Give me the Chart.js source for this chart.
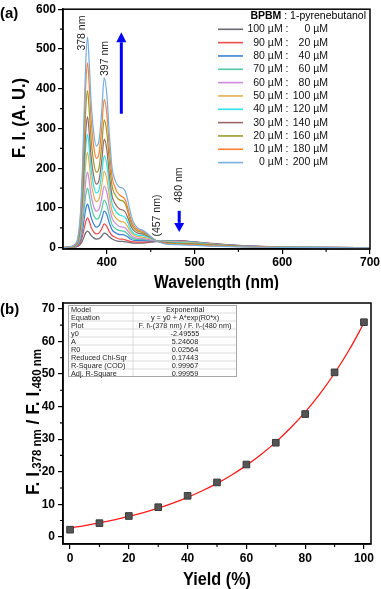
<!DOCTYPE html>
<html><head><meta charset="utf-8">
<script src="https://cdn.jsdelivr.net/npm/chart.js@4.4.1/dist/chart.umd.min.js"></script>
<style>
html,body{margin:0;padding:0;background:#fff;width:381px;height:589px;overflow:hidden}
canvas{position:absolute;left:0}
#ca{top:0}
#cb{top:290px}
</style></head><body>
<canvas id="ca" width="381" height="290"></canvas>
<canvas id="cb" width="381" height="299"></canvas>
<script>
// ---------- Panel (a) data ----------
const wavelengths = [350,355,360,364,367,370,372,374,376,378,380,382,385,388,391,394,397,400,403,406,409,412,415,418,421,424,427,430,435,440,445,450,457,465,472,480,490,500,515,530,550,575,600,650,700];
const fi_100_0   = [0.5,1,1.5,2,4,9,17,28,38,42,38,31,25,22,23,29,37,34,27,22,19,17,16,16,15,14,13,12,11.5,12,13,14,15.5,17,18,18.3,17,15,12,9,6,3.5,2,1,0.5];
const fi_90_20   = [0.5,1,2,3,5,14,28,47,66,75,66,52,40,35,37,47,60,54,40,31,27,24,22,22,20,18,16,15,14,14.5,15,15.5,16.5,17.5,18,17.9,16.5,14.5,11.5,8.5,5.5,3.5,2,1,0.5];
const fi_80_40   = [0.5,1,2,4,7,20,41,70,98,110,96,77,60,52,55,71,92,83,61,45,39,35,33,33,31,27,22,19,18,18,18,17.5,17,17,17.2,17,16,14,11,8,5.5,3,2,1,0.5];
const fi_70_60   = [0.5,1,2,4,9,27,55,95,133,150,131,105,82,72,76,96,120,108,80,58,50,45,43,42,40,34,27,23,21,21,20,19,17.5,16.5,16.5,16.3,15,13.5,10.5,7.5,5,3,2,1,0.5];
const fi_60_80   = [0.5,1,2,5,11,34,70,120,169,190,166,133,104,92,97,123,155,139,102,74,64,57,53,52,50,42,33,27,24,24,22,20,17.5,16,15.5,15,14,12.5,10,7,4.5,3,1.5,1,0.5];
const fi_50_100  = [0.5,1,2,5,13,42,88,152,214,240,210,168,131,116,122,154,192,173,127,92,79,71,67,65,62,52,40,33,28,27,25,22,17.5,15.5,14.8,14.4,13.5,12,9.5,7,4.5,2.5,1.5,1,0.5];
const fi_40_120  = [0.5,1,2.5,6,15,50,104,180,254,285,248,199,156,138,145,184,232,209,153,111,96,87,82,80,76,63,47,38,32,31,28,24,17.5,14.5,13.5,12.8,12,11,8.5,6.5,4,2.5,1.5,0.5,0.3];
const fi_30_140  = [0.5,1,2.5,6,17,57,120,208,294,330,287,230,181,160,169,216,273,246,180,130,113,103,97,95,90,75,56,45,37,35,31,26,17.5,13.5,12,11.4,10.5,9.5,8,6,4,2.5,1.2,0.5,0.3];
const fi_20_160  = [0.5,1.5,3,7,19,68,143,248,352,395,343,275,215,190,200,255,322,290,213,155,135,125,120,118,111,90,66,52,42,39,34,27,17,12.5,11,10.5,10,9,7.5,5.5,3.5,2,1.2,0.5,0.3];
const fi_10_180  = [1,1.5,3.5,8,22,80,168,292,414,465,405,325,255,225,236,298,373,336,245,178,154,139,132,128,121,99,74,58,46,42,36,28,17,11.5,9.8,9.2,8.5,7.5,6,4.5,3,2,1,0.5,0.2];
const fi_0_200   = [1,2,4,10,25,90,190,330,470,530,460,370,290,256,268,340,427,385,280,200,172,158,152,150,142,118,88,66,50,45,38,28,17,10.5,8.5,8,7,6,4.5,3.5,2.5,1.5,1,0.5,0];
const spectra = [fi_100_0,fi_90_20,fi_80_40,fi_70_60,fi_60_80,fi_50_100,fi_40_120,fi_30_140,fi_20_160,fi_10_180,fi_0_200];
const bpbmConc = ['100 µM','90 µM','80 µM','70 µM','60 µM','50 µM','40 µM','30 µM','20 µM','10 µM','0 µM'];
const pyrConc  = ['0 µM','20 µM','40 µM','60 µM','80 µM','100 µM','120 µM','140 µM','160 µM','180 µM','200 µM'];
const seriesColors = ['#6a6a72','#f24a4a','#3b7fd8','#55c9a5','#cc8ad8','#e2b04e','#2ee4e6','#9a6868','#9c9a2c','#ff8030','#78aee0'];
const xTicksA = [400,500,600,700];
const yTicksA = [0,100,200,300,400,500,600];

// ---------- Panel (b) data ----------
const yieldPct = [0,10,20,30,40,50,60,70,80,90,100];
const ratio378_480 = [2.2,4.2,6.4,9.1,12.6,16.7,22.2,28.9,37.7,50.5,65.9];
const fitX = [0,5,10,15,20,25,30,35,40,45,50,55,60,65,70,75,80,85,90,95,100];
const fitY = [2.75,3.47,4.28,5.21,6.27,7.46,8.83,10.37,12.13,14.14,16.41,19.0,21.94,25.28,29.08,33.4,38.3,43.89,50.23,57.44,65.64];
const tableRows = [
  ['Model','Exponential'],
  ['Equation','y = y0 + A*exp(R0*x)'],
  ['Plot','F. I\\-(378 nm) / F. I\\-(480 nm)'],
  ['y0','-2.49555'],
  ['A','5.24608'],
  ['R0','0.02564'],
  ['Reduced Chi-Sqr','0.17443'],
  ['R-Square (COD)','0.99967'],
  ['Adj. R-Square','0.99959']
];

const FF = "'Liberation Sans', Arial, sans-serif";
Chart.defaults.font.family = FF;
Chart.defaults.color = '#000';

function fitText(ctx, txt, x, y, font, targetW, rot, align) {
  ctx.save();
  ctx.font = font;
  const w = ctx.measureText(txt).width;
  const s = targetW ? targetW / w : 1;
  ctx.translate(x, y);
  if (rot) ctx.rotate(rot);
  ctx.scale(s, 1);
  ctx.textAlign = align || 'center';
  ctx.textBaseline = 'middle';
  ctx.fillText(txt, 0, 0);
  ctx.restore();
}
function arrow(ctx, x, y0, y1, lw, hl, hw) {
  const dir = y1 < y0 ? -1 : 1;
  ctx.save();
  ctx.strokeStyle = ctx.fillStyle = '#0000ff';
  ctx.lineWidth = lw;
  ctx.beginPath(); ctx.moveTo(x, y0); ctx.lineTo(x, y1 - dir * hl); ctx.stroke();
  ctx.beginPath(); ctx.moveTo(x, y1); ctx.lineTo(x - hw, y1 - dir * hl); ctx.lineTo(x + hw, y1 - dir * hl); ctx.closePath(); ctx.fill();
  ctx.restore();
}
function frameAndMinor(chart, xMinor, yMinor) {
  const ctx = chart.ctx, a = chart.chartArea, xs = chart.scales.x, ys = chart.scales.y;
  ctx.save();
  ctx.strokeStyle = '#000'; ctx.lineWidth = 1.5;
  ctx.strokeRect(a.left, a.top, a.right - a.left, a.bottom - a.top);
  ctx.lineWidth = 1.1;
  ctx.beginPath();
  xMinor.forEach(v => { const p = xs.getPixelForValue(v); ctx.moveTo(p, a.bottom); ctx.lineTo(p, a.bottom + 3); });
  yMinor.forEach(v => { const p = ys.getPixelForValue(v); ctx.moveTo(a.left, p); ctx.lineTo(a.left - 3, p); });
  ctx.stroke();
  ctx.restore();
}

const decorA = {
  id: 'decorA',
  afterDraw(chart) {
    const ctx = chart.ctx, a = chart.chartArea, xs = chart.scales.x, ys = chart.scales.y;
    frameAndMinor(chart, [450,550,650], [50,150,250,350,450,550]);
    ctx.fillStyle = '#000';
    ctx.font = 'bold 15px ' + FF; ctx.textAlign = 'left'; ctx.textBaseline = 'alphabetic';
    ctx.fillText('(a)', 0, 18);
    fitText(ctx, 'Wavelength (nm)', (a.left + a.right) / 2, 283, 'bold 18px ' + FF, 125, 0);
    fitText(ctx, 'F. I. (A. U.)', 20, 118, 'bold 18px ' + FF, 80, -Math.PI / 2);
    ctx.fillStyle = '#222';
    fitText(ctx, '378 nm', xs.getPixelForValue(371.5), ys.getPixelForValue(540), '10.5px ' + FF, 0, -Math.PI / 2);
    fitText(ctx, '397 nm', xs.getPixelForValue(398.5), ys.getPixelForValue(476), '10.5px ' + FF, 0, -Math.PI / 2);
    fitText(ctx, '(457 nm)', xs.getPixelForValue(457.5), ys.getPixelForValue(81), '10.5px ' + FF, 0, -Math.PI / 2);
    fitText(ctx, '480 nm', xs.getPixelForValue(482.5), ys.getPixelForValue(158), '10.5px ' + FF, 0, -Math.PI / 2);
    arrow(ctx, xs.getPixelForValue(416.5), ys.getPixelForValue(337), ys.getPixelForValue(542), 3, 10, 5);
    arrow(ctx, xs.getPixelForValue(482.5), ys.getPixelForValue(93), ys.getPixelForValue(40), 3, 9, 5);
    ctx.save();
    ctx.textBaseline = 'middle';
    ctx.fillStyle = '#000';
    const tx = 366, ty = 16;
    ctx.font = '10.5px ' + FF;
    const rest = ' : 1-pyrenebutanol';
    const wr = ctx.measureText(rest).width;
    ctx.textAlign = 'right';
    ctx.fillText(rest, tx, ty);
    ctx.font = 'bold 10.5px ' + FF;
    ctx.fillText('BPBM', tx - wr, ty);
    ctx.font = '10.5px ' + FF;
    for (let i = 0; i < spectra.length; i++) {
      const y = 29.3 + i * 13.33;
      ctx.strokeStyle = seriesColors[i]; ctx.lineWidth = 1.6;
      ctx.beginPath(); ctx.moveTo(218, y); ctx.lineTo(243, y); ctx.stroke();
      ctx.fillStyle = '#111';
      ctx.textAlign = 'right';
      ctx.fillText(bpbmConc[i] + ' :', 288.5, y);
      ctx.fillText(pyrConc[i], 328, y);
    }
    ctx.restore();
  }
};

const dsA = spectra.map((s, i) => ({
  label: bpbmConc[i] + ' : ' + pyrConc[i],
  data: wavelengths.map((w, j) => ({ x: w, y: s[j] })),
  borderColor: seriesColors[i],
  borderWidth: 1.25,
  pointRadius: 0,
  fill: false,
  cubicInterpolationMode: 'monotone',
  order: spectra.length - i
}));

function tickOpts(size) {
  return { font: { size: size, weight: 'bold' }, color: '#000', maxRotation: 0, includeBounds: false };
}

new Chart(document.getElementById('ca'), {
  type: 'line',
  data: { datasets: dsA },
  options: {
    responsive: false, animation: false, events: [],
    layout: { padding: { left: 0, right: 9, top: 6, bottom: 0 } },
    plugins: { legend: { display: false }, tooltip: { enabled: false } },
    scales: {
      x: {
        type: 'linear', min: 350, max: 700,
        afterBuildTicks(s) { s.ticks = xTicksA.map(v => ({ value: v })); },
        ticks: Object.assign(tickOpts(12), { padding: 1 }),
        grid: { drawOnChartArea: false, drawTicks: true, tickLength: 5, color: '#000', lineWidth: 1.2 },
        border: { display: true, color: '#000', width: 1.5 },
        afterFit(s) { s.height = 41; }
      },
      y: {
        type: 'linear', min: -3, max: 600,
        afterBuildTicks(s) { s.ticks = yTicksA.map(v => ({ value: v })); },
        ticks: Object.assign(tickOpts(12), { padding: 2 }),
        grid: { drawOnChartArea: false, drawTicks: true, tickLength: 5, color: '#000', lineWidth: 1.2 },
        border: { display: true, color: '#000', width: 1.5 },
        afterFit(s) { s.width = 63; }
      }
    }
  },
  plugins: [decorA]
});

// ---------- Panel (b) ----------
const decorB = {
  id: 'decorB',
  afterDraw(chart) {
    const ctx = chart.ctx, a = chart.chartArea;
    frameAndMinor(chart, [10,30,50,70,90], [5,15,25,35,45,55,65]);
    ctx.fillStyle = '#000';
    ctx.font = 'bold 15px ' + FF; ctx.textAlign = 'left'; ctx.textBaseline = 'alphabetic';
    ctx.fillText('(b)', 0, 24);
    fitText(ctx, 'Yield (%)', (a.left + a.right) / 2, 290, 'bold 18px ' + FF, 68, 0);
    const segs = [
      { t: 'F. I', f: 'bold 18px ' + FF, dy: 0 },
      { t: '.378 nm', f: 'bold 12px ' + FF, dy: 4 },
      { t: ' / F. I', f: 'bold 18px ' + FF, dy: 0 },
      { t: '.480 nm', f: 'bold 12px ' + FF, dy: 4 }
    ];
    let tot = 0;
    segs.forEach(s => { ctx.font = s.f; s.w = ctx.measureText(s.t).width; tot += s.w; });
    const target = 146, sc = target / tot;
    ctx.save();
    ctx.translate(34, 132);
    ctx.rotate(-Math.PI / 2);
    ctx.scale(sc, 1);
    ctx.textAlign = 'left'; ctx.textBaseline = 'middle';
    let xx = -tot / 2;
    segs.forEach(s => { ctx.font = s.f; ctx.fillText(s.t, xx, s.dy); xx += s.w; });
    ctx.restore();
    const L = 68, R = 237, T = 15, rh = 8, C = 133;
    ctx.save();
    ctx.fillStyle = '#fff';
    ctx.fillRect(L, T, R - L, rh * tableRows.length);
    ctx.strokeStyle = '#d4d4d4'; ctx.lineWidth = 0.8;
    for (let i = 1; i < tableRows.length; i++) {
      ctx.beginPath(); ctx.moveTo(L, T + i * rh); ctx.lineTo(R, T + i * rh); ctx.stroke();
    }
    ctx.beginPath(); ctx.moveTo(C, T); ctx.lineTo(C, T + rh * tableRows.length); ctx.stroke();
    ctx.strokeStyle = '#a8a8a8'; ctx.lineWidth = 1;
    ctx.strokeRect(L + 0.5, T + 0.5, R - L - 1, rh * tableRows.length - 1);
    ctx.fillStyle = '#222';
    ctx.font = '7.3px ' + FF; ctx.textBaseline = 'middle';
    tableRows.forEach((r, i) => {
      const y = T + i * rh + rh / 2 + 0.5;
      ctx.textAlign = 'left'; ctx.fillText(r[0], L + 3, y);
      ctx.textAlign = 'center'; ctx.fillText(r[1], (C + R) / 2, y);
    });
    ctx.restore();
  }
};

new Chart(document.getElementById('cb'), {
  type: 'scatter',
  data: {
    datasets: [
      {
        label: 'Exponential fit',
        data: fitX.map((x, i) => ({ x: x, y: fitY[i] })),
        showLine: true, borderColor: '#ff1a1a', borderWidth: 1.3, pointRadius: 0,
        cubicInterpolationMode: 'monotone', order: 2
      },
      {
        label: 'F. I378 / F. I480',
        data: yieldPct.map((x, i) => ({ x: x, y: ratio378_480[i] })),
        pointStyle: 'rect', pointRadius: 4.7, backgroundColor: '#555', borderColor: '#3a3a3a', borderWidth: 1,
        order: 1
      }
    ]
  },
  options: {
    responsive: false, animation: false, events: [],
    layout: { padding: { left: 0, right: 10, top: 13, bottom: 0 } },
    plugins: { legend: { display: false }, tooltip: { enabled: false } },
    scales: {
      x: {
        type: 'linear', min: -2.4, max: 102.4,
        ticks: Object.assign(tickOpts(12), { stepSize: 20, padding: 2 }),
        grid: { drawOnChartArea: false, drawTicks: true, tickLength: 5, color: '#000', lineWidth: 1.2 },
        border: { display: true, color: '#000', width: 1.5 },
        afterFit(s) { s.height = 45; }
      },
      y: {
        type: 'linear', min: -2.2, max: 71.8,
        ticks: Object.assign(tickOpts(12), { stepSize: 10, padding: 3 }),
        grid: { drawOnChartArea: false, drawTicks: true, tickLength: 5, color: '#000', lineWidth: 1.2 },
        border: { display: true, color: '#000', width: 1.5 },
        afterFit(s) { s.width = 63; }
      }
    }
  },
  plugins: [decorB]
});
</script>
</body></html>
